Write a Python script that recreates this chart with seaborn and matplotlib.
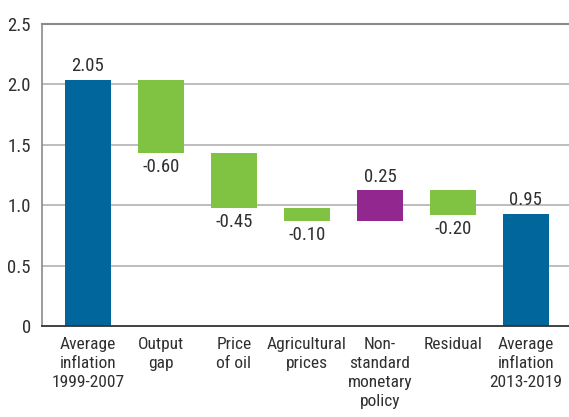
import matplotlib
matplotlib.use("Agg")
import matplotlib.pyplot as plt
from matplotlib import font_manager as fm
import seaborn as sns
import pandas as pd
import numpy as np

categories = ["Average\ninflation\n1999-2007", "Output\ngap", "Price\nof oil",
              "Agricultural\nprices", "Non-\nstandard\nmonetary\npolicy", "Residual",
              "Average\ninflation\n2013-2019"]
changes = [2.04, -0.61, -0.455, -0.105, 0.255, -0.205, 0.93]
value_labels = ["2.05", "-0.60", "-0.45", "-0.10", "0.25", "-0.20", "0.95"]
kinds = ["total", "delta", "delta", "delta", "delta", "delta", "total"]
yticks = [0, 0.5, 1.0, 1.5, 2.0, 2.5]
ytick_labels = ["0", "0.5", "1.0", "1.5", "2.0", "2.5"]

BLUE = "#00669b"
GREEN = "#80c242"
PURPLE = "#92278f"
TEXT = "#2f2f2f"

sns.set_theme(style="white")

# pick a condensed font if available
names = {f.name for f in fm.fontManager.ttflist}
chosen = None
for cand in ["Liberation Sans Narrow", "Roboto Condensed", "Open Sans Condensed",
             "Noto Sans Condensed", "DejaVu Sans Condensed"]:
    if cand in names:
        chosen = cand
        break
if chosen:
    plt.rcParams['font.family'] = [chosen, 'DejaVu Sans']
else:
    plt.rcParams['font.family'] = ['DejaVu Sans']
    plt.rcParams['font.stretch'] = 'condensed'

# compute waterfall positions
bottoms, heights, colors = [], [], []
running = 0.0
for c, k in zip(changes, kinds):
    if k == "total":
        bottoms.append(0.0)
        heights.append(c)
        running = c
        colors.append(BLUE)
    else:
        new = running + c
        bottoms.append(min(running, new))
        heights.append(abs(c))
        colors.append(GREEN if c < 0 else PURPLE)
        running = new

df = pd.DataFrame({"cat": categories, "height": heights})

fig = plt.figure(figsize=(5.69, 4.17), dpi=100)
ax = fig.add_axes([42/569, 1 - 326/417, 1 - 42/569, (326 - 24)/417])

for y in [0.5, 1.0, 1.5, 2.0]:
    ax.axhline(y, color="#b8b8b8", lw=1.3, zorder=0)

sns.barplot(data=df, x="cat", y="height", palette=colors, hue="cat", legend=False,
            width=0.63, ax=ax, saturation=1, zorder=2, linewidth=0)
# float the delta bars
for p, b in zip(ax.patches, bottoms):
    p.set_y(b)

ax.set_xlim(-0.63, 6.59)
ax.set_ylim(0, 2.5)

for i, (c, lab) in enumerate(zip(changes, value_labels)):
    top = bottoms[i] + heights[i]
    if c >= 0:
        ax.text(i, top + 0.035, lab, ha="center", va="bottom", fontsize=13.5, color=TEXT)
    else:
        ax.text(i, bottoms[i] - 0.04, lab, ha="center", va="top", fontsize=13.5, color=TEXT)

ax.set_yticks(yticks)
ax.set_yticklabels(ytick_labels, fontsize=13.5, color=TEXT)
ax.set_xticks(range(len(categories)))
ax.set_xticklabels(categories, fontsize=12.5, color=TEXT, linespacing=1.32, va="top")
ax.set_xlabel("")
ax.set_ylabel("")
ax.tick_params(axis="y", length=0, pad=8)
ax.tick_params(axis="x", length=0, pad=8)

ax.spines["right"].set_visible(False)
ax.spines["top"].set_color("#8a8a8a")
ax.spines["top"].set_linewidth(1.5)
ax.spines["left"].set_color("#8a8a8a")
ax.spines["left"].set_linewidth(1.2)
ax.spines["bottom"].set_color("#333333")
ax.spines["bottom"].set_linewidth(1.3)

fig.savefig("out.png", dpi=100)
